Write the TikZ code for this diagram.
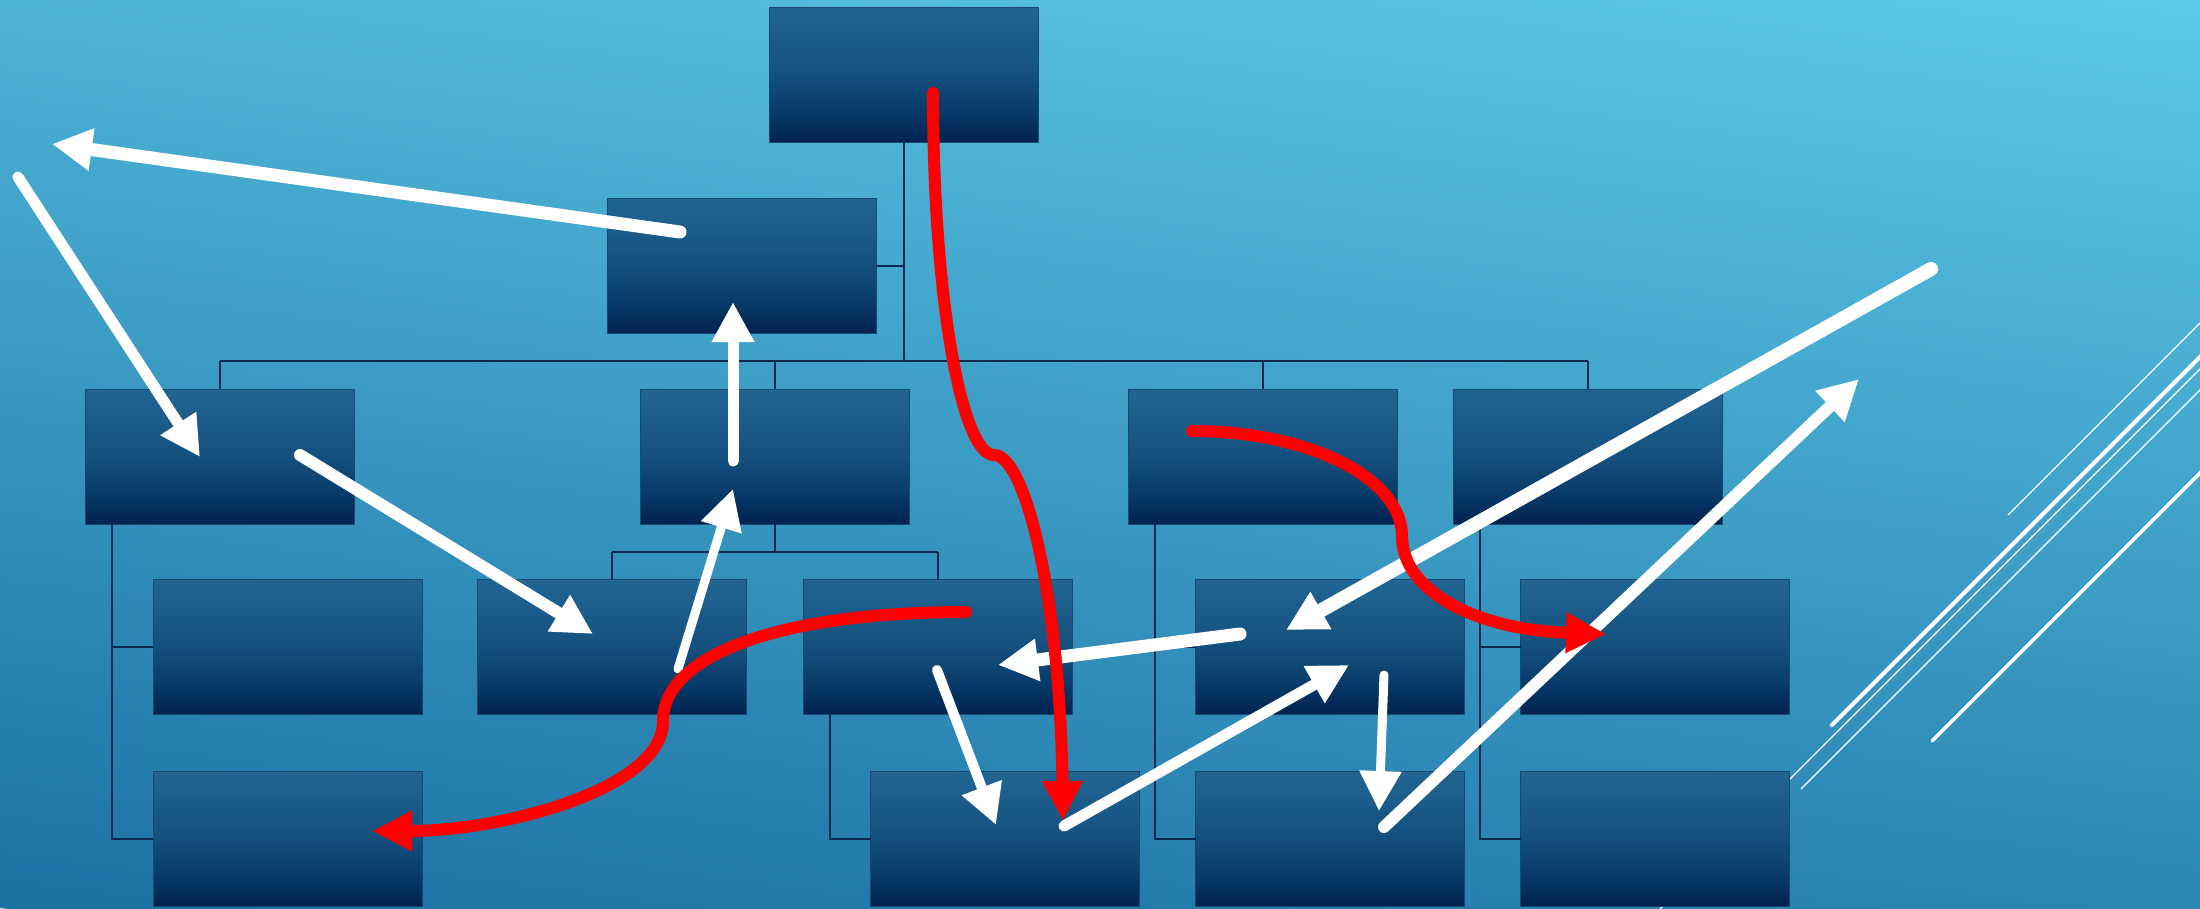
\documentclass[tikz,border=0pt]{standalone}
\usetikzlibrary{arrows.meta,calc}

\definecolor{bgLow}{RGB}{28,113,163}
\definecolor{bgHigh}{RGB}{92,201,231}
\definecolor{bxTop}{RGB}{33,101,147}
\definecolor{bxMid}{RGB}{21,81,127}
\definecolor{bxLow}{RGB}{9,60,106}
\definecolor{bxBot}{RGB}{0,34,81}
\definecolor{bxEdge}{RGB}{24,72,112}
\definecolor{wire}{RGB}{10,40,80}

% box fill: the path spans 25bp (bottom) to 75bp (top)
\pgfdeclareverticalshading{boxshade}{100bp}{color(0bp)=(bxBot); color(25bp)=(bxBot); color(37bp)=(bxLow); color(51bp)=(bxMid); color(75bp)=(bxTop); color(100bp)=(bxTop)}

\tikzset{
  orgbox/.style={shade, shading=boxshade, draw=bxEdge, line width=1pt,
    minimum width=269pt, minimum height=135pt, inner sep=0pt, outer sep=0pt},
  wireline/.style={draw=wire, line width=2pt},
  flow/.style={draw=white, line cap=round, -{Triangle[length=40pt,width=40pt]}},
  hotflow/.style={draw=red, line width=12pt, line cap=round, -{Triangle[length=40pt,width=38pt]}},
  streak/.style={draw=white, line cap=round},
}

\begin{document}
\begin{tikzpicture}[x=1pt,y=-1pt]
\useasboundingbox (0,0) rectangle (2200,908);

% background gradient, dark at lower left, light at upper right
\begin{scope}
  \clip (0,0) rectangle (2200,908);
  \begin{scope}[transform canvas={rotate around={-7.5:(1100,454)}}]
    \shade[top color=bgHigh, bottom color=bgLow] (-100,-139.7) rectangle (2300,1047.7);
  \end{scope}
\end{scope}

% decorative streaks on the right
\draw[streak, line width=1.2pt] (2008,515) -- (2212,311);
\draw[streak, line width=4pt] (1832,725) -- (2212,345);
\draw[streak, line width=1.3pt] (1655,914) -- (2212,357);
\draw[streak, line width=1.3pt] (1801,789) -- (2212,378);
\draw[streak, line width=3.5pt] (1932,741) -- (2212,461);

% organisation chart boxes
\node[orgbox] (b0) at (904,74.5) {};
\node[orgbox] (b1) at (742,265.5) {};
\node[orgbox] (r3a) at (220,456.5) {};
\node[orgbox] (r3b) at (775,456.5) {};
\node[orgbox] (r3c) at (1263,456.5) {};
\node[orgbox] (r3d) at (1588,456.5) {};
\node[orgbox] (r4a) at (287.5,647) {};
\node[orgbox] (r4b) at (612,647) {};
\node[orgbox] (r4c) at (938,647) {};
\node[orgbox] (r4d) at (1330,647) {};
\node[orgbox] (r4e) at (1655,647) {};
\node[orgbox] (r5a) at (287.5,838.5) {};
\node[orgbox] (r5c) at (1005,838.5) {};
\node[orgbox] (r5d) at (1330,838.5) {};
\node[orgbox] (r5e) at (1655,838.5) {};

% chart wiring
\coordinate (bus) at (0,360.7);
\draw[wireline] (b0.south) -- (b0.south |- bus);
\draw[wireline] (b1.east) -- (b1.east -| b0.south);
\draw[wireline] (r3a.north |- bus) -- (r3d.north |- bus);
\foreach \n in {r3a,r3b,r3c,r3d} \draw[wireline] (\n.north |- bus) -- (\n.north);
\coordinate (split) at ($(r3b.south)!0.5!(r4b.north)$);
\draw[wireline] (r3b.south) -- (r3b.south |- split);
\draw[wireline] (r4b.north |- split) -- (r4c.north |- split);
\draw[wireline] (r4b.north |- split) -- (r4b.north);
\draw[wireline] (r4c.north |- split) -- (r4c.north);
\coordinate (sa) at ([xshift=26.5pt]r3a.south west);
\coordinate (sc) at ([xshift=26.5pt]r3c.south west);
\coordinate (sd) at ([xshift=26.5pt]r3d.south west);
\coordinate (sk) at ([xshift=26.5pt]r4c.south west);
\draw[wireline] (sa) -- (sa |- r5a.west) -- (r5a.west);
\draw[wireline] (sa |- r4a.west) -- (r4a.west);
\draw[wireline] (sc) -- (sc |- r5d.west) -- (r5d.west);
\draw[wireline] (sc |- r4d.west) -- (r4d.west);
\draw[wireline] (sd) -- (sd |- r5e.west) -- (r5e.west);
\draw[wireline] (sd |- r4e.west) -- (r4e.west);
\draw[wireline] (sk) -- (sk |- r5c.west) -- (r5c.west);

% white arrows
\coordinate (w1s) at (680,232);   \coordinate (w1e) at (52,144);
\coordinate (w2s) at (18,177);    \coordinate (w2e) at (200,457);
\coordinate (w3s) at (300,455);   \coordinate (w3e) at (593,634);
\coordinate (w4s) at (733,461);   \coordinate (w4e) at (733,302);
\coordinate (w5s) at (678,669);   \coordinate (w5e) at (733,489);
\coordinate (w6s) at (937,670);   \coordinate (w6e) at (996,825);
\coordinate (w7s) at (1240,634);  \coordinate (w7e) at (998,665);
\coordinate (w8s) at (1931,269);  \coordinate (w8e) at (1286,630);
\coordinate (w9s) at (1064,826);  \coordinate (w9e) at (1349,665);
\coordinate (w10s) at (1384,675); \coordinate (w10e) at (1379,811);
\coordinate (w11s) at (1384,827); \coordinate (w11e) at (1859,379);
\draw[flow, line width=13pt] (w1s) -- (w1e);
\draw[flow, line width=11pt] (w2s) -- (w2e);
\draw[flow, line width=12pt] (w3s) -- (w3e);
\draw[flow, line width=11pt] (w4s) -- (w4e);
\draw[flow, line width=9pt] (w5s) -- (w5e);
\draw[flow, line width=10pt] (w6s) -- (w6e);
\draw[flow, line width=13pt] (w7s) -- (w7e);
\draw[flow, line width=14pt] (w8s) -- (w8e);
\draw[flow, line width=11pt] (w9s) -- (w9e);
\draw[flow, line width=9pt] (w10s) -- (w10e);
\draw[flow, line width=12pt] (w11s) -- (w11e);

% red arrows
\coordinate (h1s) at (933,93);   \coordinate (h1m) at (994,455);  \coordinate (h1e) at (1063,821);
\coordinate (h2s) at (966,612);  \coordinate (h2m) at (663,721);  \coordinate (h2e) at (372,831);
\coordinate (h3s) at (1192,431); \coordinate (h3m) at (1402,536); \coordinate (h3e) at (1606,634);
\draw[hotflow] (h1s) .. controls +(0,207) and +(-32,0) .. (h1m)
                     .. controls +(32,0) and +(-3,-221) .. (h1e);
\draw[hotflow] (h2s) .. controls +(-186,0) and +(0,-66) .. (h2m)
                     .. controls +(0,69) and +(128,0) .. (h2e);
\draw[hotflow] (h3s) .. controls +(116,0) and +(0,-58) .. (h3m)
                     .. controls +(0,57) and +(-126,-4) .. (h3e);
\end{tikzpicture}
\end{document}
